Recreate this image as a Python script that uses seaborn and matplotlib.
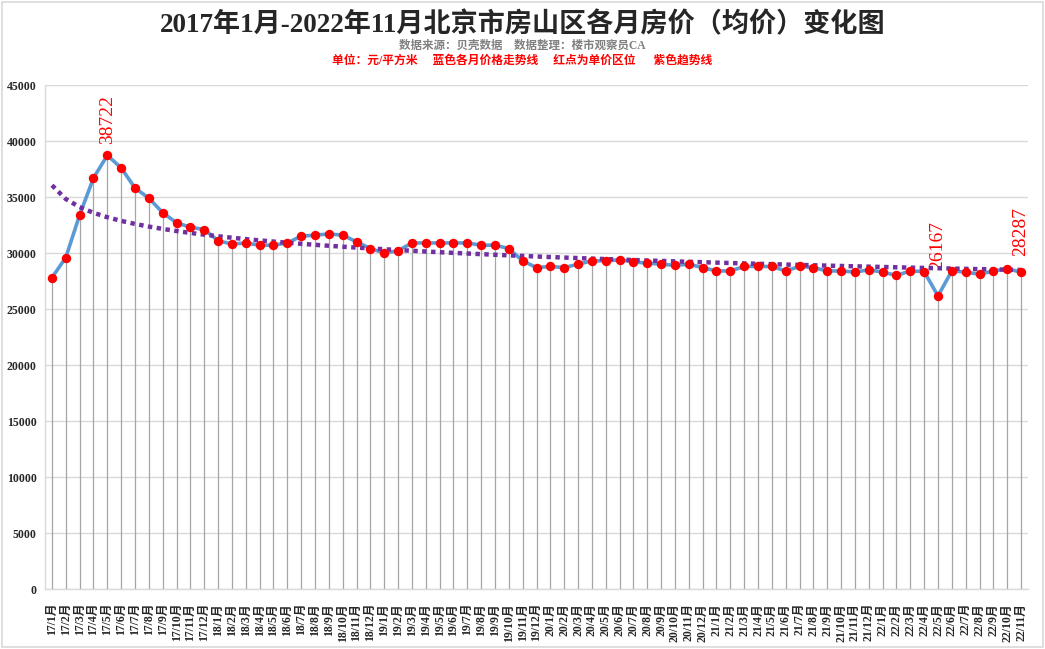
import numpy as np
import pandas as pd
import seaborn as sns
import matplotlib.pyplot as plt
from matplotlib.patches import Rectangle

# monthly average price (yuan / m2), 2017/1 .. 2022/11
months = [f"{y}/{m}月" for y in range(17, 23) for m in range(1, 13)][:71]
prices = [27800, 29600, 33400, 36700, 38722, 37600, 35800, 34900, 33600, 32700,
          32300, 32100, 31100, 30800, 30900, 30700, 30700, 30900, 31500, 31600,
          31700, 31600, 31000, 30400, 30000, 30200, 30900, 30900, 30900, 30900,
          30900, 30700, 30700, 30400, 29300, 28700, 28800, 28700, 29000, 29300,
          29300, 29400, 29200, 29100, 29000, 28900, 29000, 28700, 28400, 28400,
          28800, 28800, 28800, 28400, 28800, 28700, 28400, 28400, 28300, 28500,
          28300, 28000, 28400, 28350, 26167, 28400, 28300, 28100, 28400, 28600,
          28287]
# points that carry a value label, and label offset (points above the dot)
label_idx = [4, 64, 70]
label_off = [8, 19, 12]

title = "2017年1月-2022年11月北京市房山区各月房价（均价）变化图"
sub1 = "数据来源：贝壳数据    数据整理：楼市观察员CA"
sub2 = "单位：元/平方米     蓝色各月价格走势线     红点为单价区位      紫色趋势线"

df = pd.DataFrame({"i": np.arange(len(prices)), "month": months, "price": prices})

# Excel style logarithmic trendline
b, a = np.polyfit(np.log(df["i"] + 1), df["price"], 1)
df["trend"] = a + b * np.log(df["i"] + 1)

sns.set_theme(style="white")
serif = ["Liberation Serif", "Noto Sans CJK SC"]
plt.rcParams["font.family"] = serif

fig = plt.figure(figsize=(10.45, 6.49), dpi=100)
ax = fig.add_axes([0.0431, 0.0924, 0.9406, 0.7766])

# drop lines
ax.vlines(df["i"], 0, df["price"], color="#a6a6a6", lw=0.9, zorder=1)

sns.lineplot(data=df, x="i", y="price", ax=ax, color="#5b9bd5", lw=2.6, zorder=3)
ax.plot(df["i"], df["trend"], color="#7030a0", lw=3.2, ls=(0, (1, 1)), zorder=4)
sns.scatterplot(data=df, x="i", y="price", ax=ax, color="#ff0000", s=46,
                edgecolor="#ff0000", linewidth=0, zorder=5)

for i, off in zip(label_idx, label_off):
    ax.annotate(str(prices[i]), (i, prices[i]), xytext=(0, off),
                textcoords="offset points", rotation=90, ha="center", va="bottom",
                color="#ff0000", fontsize=14, family="Liberation Serif")

ax.set_xlim(-0.5, len(prices) - 0.5)
ax.set_ylim(0, 45000)
ax.set_yticks(range(0, 45001, 5000))
ax.set_yticklabels([str(v) for v in range(0, 45001, 5000)], fontsize=8.5,
                   fontweight="bold")
ax.set_xticks(df["i"])
ax.set_xticklabels(months, rotation=90, fontsize=8.5, fontweight="bold", va="top")
ax.tick_params(axis="both", length=0, pad=6)
ax.tick_params(axis="x", pad=10)
ax.set_xlabel("")
ax.set_ylabel("")
ax.grid(axis="y", color="#d9d9d9", lw=1)
ax.set_axisbelow(True)
for s in ["top", "right"]:
    ax.spines[s].set_visible(False)
for s in ["left", "bottom"]:
    ax.spines[s].set_color("#d9d9d9")
    ax.spines[s].set_linewidth(1)

fig.text(0.5, 0.961, title, ha="center", va="center", fontsize=19.5,
         fontweight="bold", family=serif)
fig.text(0.5, 0.929, sub1, ha="center", va="center", fontsize=8.3,
         fontweight="bold", color="#808080", family=serif)
fig.text(0.5, 0.906, sub2, ha="center", va="center", fontsize=8.5,
         fontweight="bold", color="#ff0000", family=serif)

fig.patches.append(Rectangle((0.002, 0.003), 0.996, 0.994, transform=fig.transFigure,
                             fill=False, edgecolor="#d9d9d9", lw=1.2))

fig.savefig("out.png", dpi=100)
